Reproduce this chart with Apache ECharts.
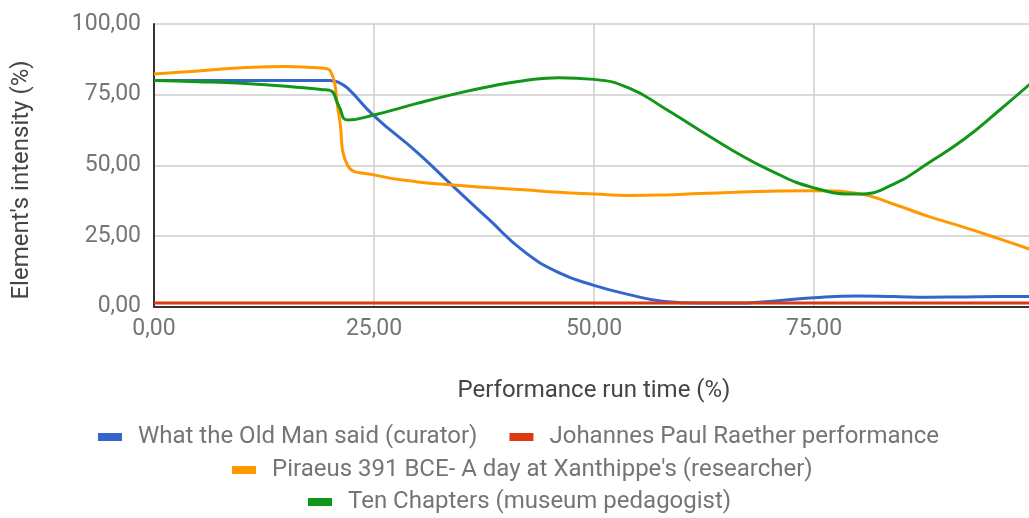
<!DOCTYPE html>
<html>
<head>
<meta charset="utf-8">
<script src="https://cdn.jsdelivr.net/npm/echarts@6/dist/echarts.min.js"></script>
<style>
  html, body { margin: 0; padding: 0; background: #ffffff; }
  #chart { width: 1029px; height: 518px; }
</style>
</head>
<body>
<div id="chart"></div>
<script>
// Run-time positions (%) where intensities were sampled
const runTime = [0, 5, 10, 15, 19, 20, 21, 22, 25, 30, 34, 38, 42, 46, 50, 54, 58, 62, 66, 70, 75, 80, 84, 88, 92, 96, 100];

// Element intensity (%) for each performance
const oldManCurator = [80, 80, 80, 80, 80, 80, 79.3, 77.3, 67.5, 54.3, 42.5, 31, 19.6, 12, 7.5, 4.2, 1.8, 1.2, 1.2, 1.8, 3.1, 3.7, 3.5, 3.3, 3.4, 3.5, 3.5];
const raetherPerformance = [1.2, 1.2, 1.2, 1.2, 1.2, 1.2, 1.2, 1.2, 1.2, 1.2, 1.2, 1.2, 1.2, 1.2, 1.2, 1.2, 1.2, 1.2, 1.2, 1.2, 1.2, 1.2, 1.2, 1.2, 1.2, 1.2, 1.2];
const piraeusResearcher = [82.3, 83.4, 84.5, 85, 84.4, 83.5, 68, 50, 46.6, 44.1, 43, 42.1, 41.3, 40.4, 39.8, 39.3, 39.5, 40, 40.4, 40.8, 41, 40, 36.3, 31.9, 28.1, 24, 19.8];
const tenChaptersPedagogist = [80, 79.6, 79, 78, 76.8, 76.5, 71, 66, 67.8, 72, 75.1, 77.8, 79.9, 81, 80.4, 77.3, 70.2, 62.4, 54.8, 48.2, 42, 39.8, 43.2, 50.8, 59.1, 69.3, 80];

const seriesNames = [
  'What the Old Man said (curator)',
  'Johannes Paul Raether performance',
  "Piraeus 391 BCE- A day at Xanthippe's (researcher)",
  'Ten Chapters (museum pedagogist)'
];
const seriesColors = ['#3366cc', '#dc3912', '#ff9900', '#109618'];
const seriesValues = [oldManCurator, raetherPerformance, piraeusResearcher, tenChaptersPedagogist];

const yTicks = [0, 25, 50, 75, 100];
const fmt = v => v.toFixed(2).replace('.', ',');

const FONT = 'Roboto, "Noto Sans", sans-serif';
const TICK_FS = 23;
const TEXT_FS = 24;

const chart = echarts.init(document.getElementById('chart'), null, { renderer: 'canvas' });

const legendBase = {
  orient: 'horizontal',
  icon: 'rect',
  itemWidth: 24,
  itemHeight: 8,
  itemGap: 32,
  padding: 0,
  textStyle: { fontFamily: FONT, fontSize: TEXT_FS, color: '#757575', padding: [0, 0, 0, 11] }
};

chart.setOption({
  animation: false,
  backgroundColor: '#ffffff',
  grid: { left: 154, right: -5, top: 24, bottom: 211.5, outerBoundsMode: 'none' },
  xAxis: {
    type: 'value',
    min: 0,
    max: 100,
    interval: 25,
    name: 'Performance run time (%)',
    nameLocation: 'middle',
    nameGap: 72,
    nameTextStyle: { fontFamily: FONT, fontSize: TEXT_FS, color: '#444444' },
    axisLine: { show: true, onZero: false, lineStyle: { color: '#333333', width: 2 } },
    axisTick: { show: false },
    axisLabel: {
      margin: 11,
      fontFamily: FONT, fontSize: TICK_FS, color: '#757575',
      showMaxLabel: false,
      formatter: fmt
    },
    splitLine: { show: true, lineStyle: { color: '#cccccc', width: 1.5 } }
  },
  yAxis: {
    type: 'value',
    min: yTicks[0],
    max: yTicks[yTicks.length - 1],
    interval: 25,
    axisLine: { show: true, lineStyle: { color: '#333333', width: 2 } },
    axisTick: { show: false },
    axisLabel: {
      margin: 13,
      fontFamily: FONT, fontSize: TICK_FS, color: '#757575',
      formatter: fmt
    },
    splitLine: { show: true, lineStyle: { color: '#cccccc', width: 1.5 } }
  },
  legend: [
    Object.assign({}, legendBase, { left: 98, top: 425, data: [seriesNames[0], seriesNames[1]] }),
    Object.assign({}, legendBase, { left: 232, top: 458, data: [seriesNames[2]] }),
    Object.assign({}, legendBase, { left: 308, top: 490, data: [seriesNames[3]] })
  ],
  graphic: [{
    type: 'text',
    x: 22,
    y: 180,
    rotation: Math.PI / 2,
    style: {
      text: "Element's intensity (%)",
      fontFamily: FONT,
      fontSize: TEXT_FS,
      fill: '#444444',
      align: 'center',
      verticalAlign: 'middle'
    }
  }],
  series: seriesValues.map((vals, i) => ({
    name: seriesNames[i],
    type: 'line',
    smooth: 0.5,
    showSymbol: false,
    symbol: 'none',
    color: seriesColors[i],
    lineStyle: { width: 3, color: seriesColors[i] },
    data: runTime.map((t, j) => [t, vals[j]])
  }))
});
</script>
</body>
</html>
